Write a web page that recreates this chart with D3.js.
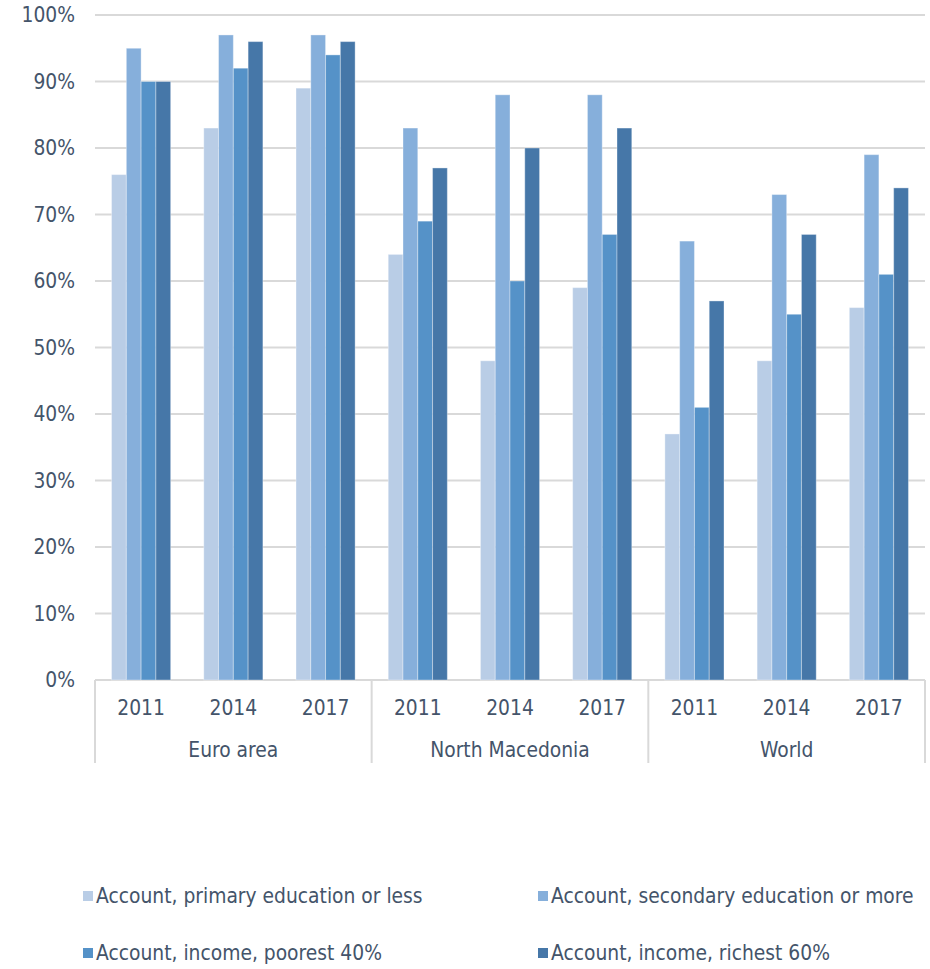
<!DOCTYPE html>
<html>
<head>
<meta charset="utf-8">
<script src="https://cdn.jsdelivr.net/npm/d3@7"></script>
<style>
  body { margin: 0; background: #fff; }
  text { font-family: "DejaVu Sans Condensed", "DejaVu Sans", sans-serif; fill: #44546a; }
</style>
</head>
<body>
<svg id="chart" width="930" height="969"></svg>
<script>
var regions = ["Euro area", "North Macedonia", "World"];
var years = ["2011", "2014", "2017"];
var seriesNames = ["Account, primary education or less", "Account, secondary education or more",
                   "Account, income, poorest 40%", "Account, income, richest 60%"];
var colors = ["#b9cde6", "#86afdb", "#5592c8", "#4677a8"];
// values per region, per year: [primary, secondary, poorest40, richest60]
var euroArea = [[76, 95, 90, 90], [83, 97, 92, 96], [89, 97, 94, 96]];
var northMacedonia = [[64, 83, 69, 77], [48, 88, 60, 80], [59, 88, 67, 83]];
var world = [[37, 66, 41, 57], [48, 73, 55, 67], [56, 79, 61, 74]];
var yTicks = [0, 10, 20, 30, 40, 50, 60, 70, 80, 90, 100];

var fs = "20.8px";

var allValues = [euroArea, northMacedonia, world];
var data = [];
regions.forEach(function(r, i) {
	years.forEach(function(yr, j) {
		data.push({key: r + "|" + yr, region: r, year: yr, values: allValues[i][j]});
	});
});

var svg = d3.select("#chart"),
	margin = {top: 15, right: 5, bottom: 289, left: 95},
	width = +svg.attr("width") - margin.left - margin.right,
	height = +svg.attr("height") - margin.top - margin.bottom;

var g = svg.append("g").attr("transform", "translate(" + margin.left + "," + margin.top + ")");

var x0 = d3.scaleBand().domain(data.map(function(d) { return d.key; })).range([0, width]).paddingInner(0).paddingOuter(0);
var x1 = d3.scaleBand().domain(d3.range(4)).range([0, x0.bandwidth()]).paddingOuter(1.12).paddingInner(0);
var y = d3.scaleLinear().domain([0, 100]).range([height, 0]);
var xr = d3.scaleBand().domain(regions).range([0, width]);

// gridlines
g.selectAll(".grid")
	.data(yTicks)
  .enter().append("line")
	.attr("x1", 0).attr("x2", width)
	.attr("y1", function(d) { return y(d); }).attr("y2", function(d) { return y(d); })
	.attr("stroke", "#d9d9d9").attr("stroke-width", 2);

// y labels
g.selectAll(".ylab")
	.data(yTicks)
  .enter().append("text")
	.attr("x", -20)
	.attr("y", function(d) { return y(d); })
	.attr("dy", "0.35em")
	.attr("text-anchor", "end")
	.style("font-size", fs)
	.text(function(d) { return d + "%"; });

// bars
var groups = g.selectAll(".grp")
	.data(data)
  .enter().append("g")
	.attr("transform", function(d) { return "translate(" + x0(d.key) + ",0)"; });

groups.selectAll("rect")
	.data(function(d) { return d.values; })
  .enter().append("rect")
	.attr("x", function(d, i) { return x1(i); })
	.attr("width", x1.bandwidth())
	.attr("y", function(d) { return y(d); })
	.attr("height", function(d) { return height - y(d); })
	.attr("fill", function(d, i) { return colors[i]; })
	.attr("stroke", "rgba(255,255,255,0.35)")
	.attr("stroke-width", 1);

// axis separators
var seps = d3.range(regions.length + 1).map(function(i) { return i * xr.bandwidth(); });
g.selectAll(".sep")
	.data(seps)
  .enter().append("line")
	.attr("x1", function(d) { return d; }).attr("x2", function(d) { return d; })
	.attr("y1", height).attr("y2", height + 83)
	.attr("stroke", "#d9d9d9").attr("stroke-width", 2);

// year labels
g.selectAll(".yr")
	.data(data)
  .enter().append("text")
	.attr("x", function(d) { return x0(d.key) + x0.bandwidth() / 2; })
	.attr("y", height + 35)
	.attr("text-anchor", "middle")
	.style("font-size", fs)
	.text(function(d) { return d.year; });

// region labels
g.selectAll(".reg")
	.data(regions)
  .enter().append("text")
	.attr("x", function(d) { return xr(d) + xr.bandwidth() / 2; })
	.attr("y", height + 77)
	.attr("text-anchor", "middle")
	.style("font-size", fs)
	.text(function(d) { return d; });

// legend
var legPos = [[83, 896], [538, 896], [83, 953], [538, 953]];
var leg = svg.selectAll(".leg")
	.data(seriesNames)
  .enter().append("g")
	.attr("transform", function(d, i) { return "translate(" + legPos[i][0] + "," + legPos[i][1] + ")"; });
leg.append("rect")
	.attr("x", 0).attr("y", -5).attr("width", 10).attr("height", 10)
	.attr("fill", function(d, i) { return colors[i]; });
leg.append("text")
	.attr("x", 13).attr("y", 0).attr("dy", "0.35em")
	.style("font-size", fs)
	.text(function(d) { return d; });
</script>
</body>
</html>
